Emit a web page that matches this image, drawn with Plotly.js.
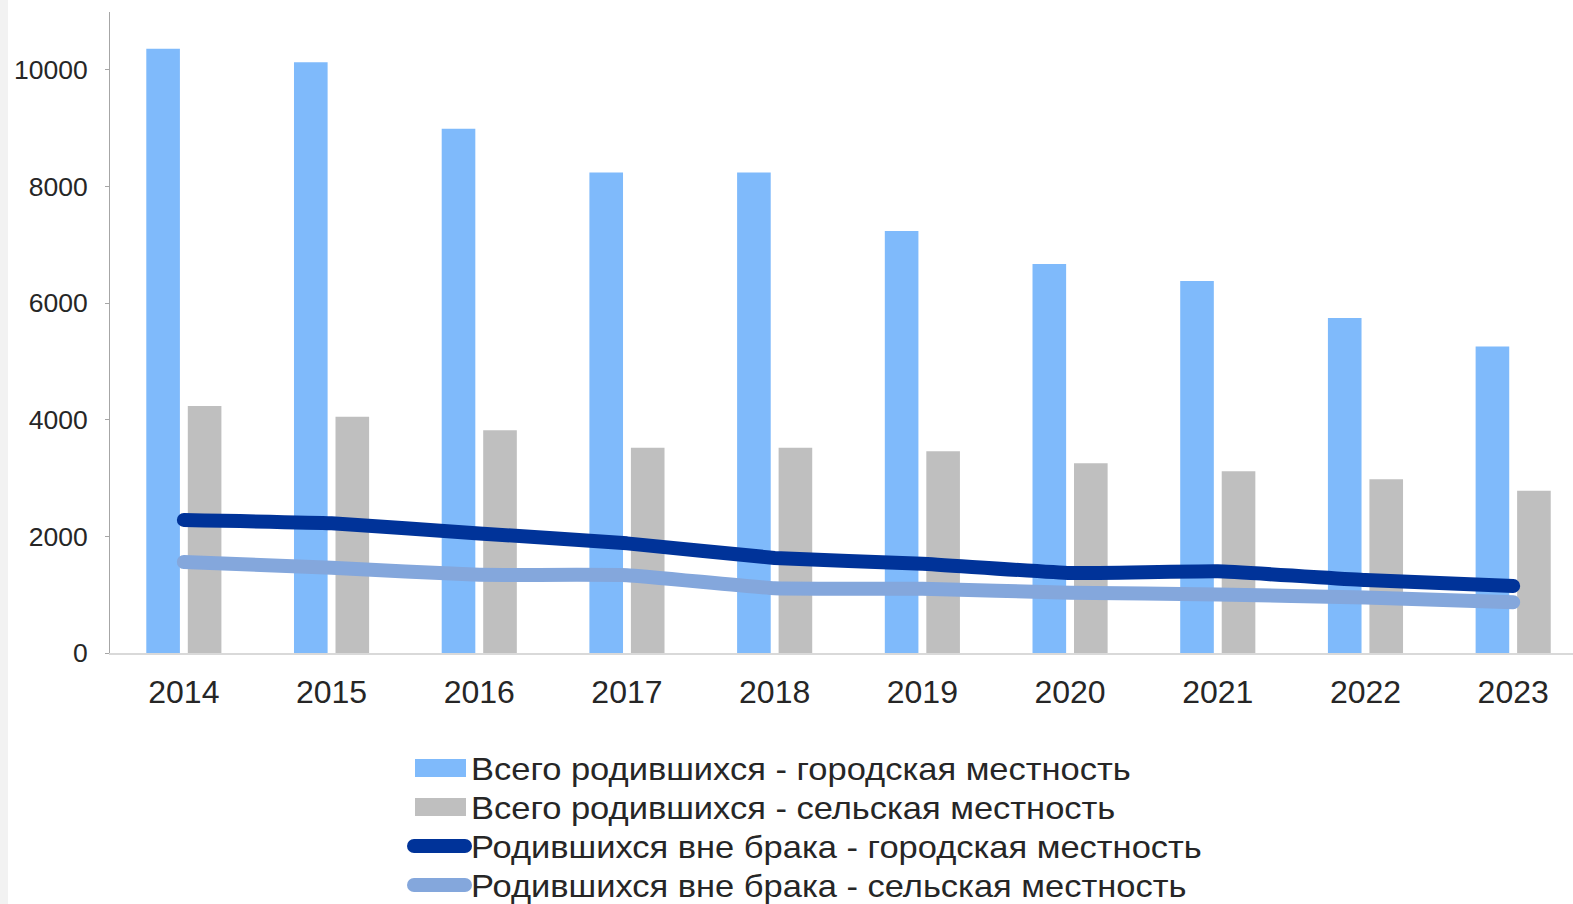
<!DOCTYPE html>
<html>
<head>
<meta charset="utf-8">
<script src="https://cdn.plot.ly/plotly-3.0.1.min.js"></script>
<style>
html, body { margin: 0; padding: 0; }
body { width: 1573px; height: 904px; background: linear-gradient(to right, #f2f2f2 0px, #f2f2f2 8px, #ffffff 8px); overflow: hidden; }
#chart { width: 1573px; height: 904px; }
.scatterlayer .js-line, .legendlines path { stroke-linecap: round !important; stroke-linejoin: round !important; }
</style>
</head>
<body>
<div id="chart"></div>
<script>
const years = ['2014','2015','2016','2017','2018','2019','2020','2021','2022','2023'];
const totalUrban = [10360, 10130, 8990, 8240, 8240, 7235, 6670, 6378, 5743, 5256];
const totalRural = [4234, 4051, 3818, 3520, 3520, 3458, 3252, 3115, 2978, 2783];
const outUrban = [2280, 2225, 2050, 1880, 1630, 1530, 1370, 1400, 1250, 1150];
const outRural = [1560, 1460, 1340, 1335, 1110, 1100, 1035, 1005, 950, 870];
const yTickVals = [0, 2000, 4000, 6000, 8000, 10000];
const yTickText = ['0', '2000', '4000', '6000', '8000', '10000'];
const names = [
  'Всего родившихся - городская местность',
  'Всего родившихся - сельская местность',
  'Родившихся вне брака - городская местность',
  'Родившихся вне брака - сельская местность'
];

const traces = [
  {type: 'bar', x: years, y: totalUrban, name: names[0], marker: {color: '#7fbafb'}},
  {type: 'bar', x: years, y: totalRural, name: names[1], marker: {color: '#bfbfbf'}},
  {type: 'scatter', mode: 'lines', x: years, y: outUrban, name: names[2],
   line: {color: '#003399', width: 14, shape: 'spline', smoothing: 0.3}},
  {type: 'scatter', mode: 'lines', x: years, y: outRural, name: names[3],
   line: {color: '#84a7dc', width: 14, shape: 'spline', smoothing: 0.3}}
];

const layout = {
  width: 1573, height: 904,
  paper_bgcolor: 'rgba(0,0,0,0)', plot_bgcolor: '#ffffff',
  margin: {l: 110, r: 0, t: 12, b: 251, pad: 0},
  font: {family: '"Liberation Sans", Arial, sans-serif', color: '#262626'},
  barmode: 'group', bargap: 0.438, bargroupgap: 0.19,
  showlegend: true,
  legend: {
    orientation: 'v', x: 0.2, xanchor: 'left', y: 0.95, yanchor: 'top',
    font: {size: 30.5, color: '#262626'}, itemwidth: 60, traceorder: 'normal',
    bgcolor: 'rgba(0,0,0,0)', borderwidth: 0
  },
  xaxis: {
    type: 'category', range: [-0.5, 9.405], showgrid: false,
    showline: true, linecolor: '#d9d9d9', linewidth: 2,
    ticks: '', tickfont: {size: 32, color: '#262626'}, ticklabelstandoff: 10,
    zeroline: false
  },
  yaxis: {
    range: [0, 10990], tickvals: yTickVals, ticktext: yTickText,
    showgrid: false, zeroline: false,
    showline: true, linecolor: '#a6a6a6', linewidth: 1,
    ticks: 'outside', ticklen: 4, tickcolor: '#a6a6a6',
    tickfont: {size: 26.5, color: '#262626'}, ticklabelstandoff: 12
  }
};

Plotly.newPlot('chart', traces, layout, {displayModeBar: false, staticPlot: true}).then(function (gd) {
  const scroll = gd.querySelector('.legend .scrollbox');
  if (scroll) scroll.removeAttribute('clip-path');
  const legendG = gd.querySelector('.legend');
  if (legendG) legendG.removeAttribute('clip-path');
  const bg = gd.querySelector('.legend .bg');
  if (bg) bg.style.display = 'none';
  const items = gd.querySelectorAll('.legend .traces');
  const targetTextX = 471, firstY = 768, stepY = 39, stretch = 1.13;
  items.forEach(function (g, i) {
    const txt = g.querySelector('text.legendtext');
    if (!txt) return;
    const tx = parseFloat(txt.getAttribute('x')) || 0;
    const ctm = g.getCTM();
    const tr = (g.getAttribute('transform') || '').match(/translate\(\s*([-\d.e]+)[ ,]+([-\d.e]+)/);
    let ox = tr ? parseFloat(tr[1]) : 0, oy = tr ? parseFloat(tr[2]) : 0;
    const curTextAbsX = ctm.e + tx;
    const curAbsY = ctm.f;
    ox += targetTextX - curTextAbsX;
    oy += (firstY + stepY * i) - curAbsY;
    g.setAttribute('transform', 'translate(' + ox + ',' + oy + ')');
    const w = txt.getComputedTextLength();
    txt.setAttribute('textLength', (w * stretch).toFixed(1));
    txt.setAttribute('lengthAdjust', 'spacingAndGlyphs');
    if (i < 2) {
      g.querySelectorAll('.legendpoints path').forEach(function (p) {
        p.setAttribute('transform', '');
        p.setAttribute('d', 'M' + (tx - 56) + ',-9H' + (tx - 5) + 'V9H' + (tx - 56) + 'Z');
        p.style.stroke = 'none';
      });
    } else {
      g.querySelectorAll('.legendlines path').forEach(function (p) {
        p.setAttribute('transform', '');
        p.setAttribute('d', 'M' + (tx - 57) + ',0H' + (tx - 6));
        p.style.strokeWidth = '14px';
      });
    }
  });
});
</script>
</body>
</html>
